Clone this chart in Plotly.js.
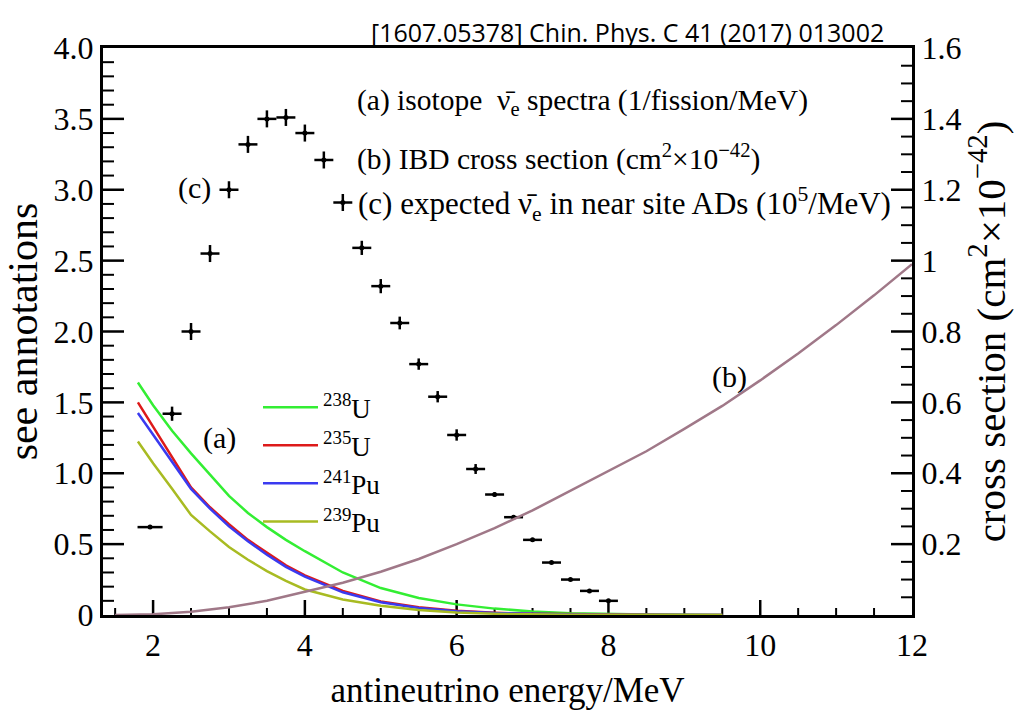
<!DOCTYPE html>
<html>
<head>
<meta charset="utf-8">
<script src="https://cdn.plot.ly/plotly-3.0.1.min.js"></script>
<style>html,body{margin:0;padding:0;background:#fff;}#chart{width:1018px;height:711px;}</style>
</head>
<body>
<div id="chart"></div>
<script>
// (a) isotope spectra (1/fission/MeV)
const specE = [1.8, 2.0, 2.25, 2.5, 2.75, 3.0, 3.25, 3.5, 3.75, 4.0, 4.5, 5.0, 5.5, 6.0, 6.5, 7.0, 7.5, 8.0, 8.5, 9.0, 9.5];
const u238  = [1.64, 1.48, 1.30, 1.14, 0.99, 0.84, 0.72, 0.62, 0.53, 0.45, 0.30, 0.19, 0.12, 0.075, 0.045, 0.025, 0.013, 0.006, 0.003, 0.001, 0.0];
const u235  = [1.50, 1.33, 1.12, 0.90, 0.76, 0.64, 0.53, 0.44, 0.35, 0.28, 0.17, 0.095, 0.055, 0.03, 0.016, 0.008, 0.004, 0.002, 0.001, 0.0005, 0.0];
const pu241 = [1.425, 1.27, 1.08, 0.89, 0.75, 0.625, 0.52, 0.425, 0.34, 0.27, 0.16, 0.09, 0.05, 0.027, 0.014, 0.007, 0.003, 0.0015, 0.0008, 0.0004, 0.0];
const pu239 = [1.224, 1.07, 0.89, 0.706, 0.59, 0.48, 0.39, 0.31, 0.24, 0.18, 0.11, 0.065, 0.035, 0.018, 0.009, 0.004, 0.002, 0.001, 0.0005, 0.0002, 0.0];

// (b) IBD cross section (right axis)
const xsE   = [1.5, 1.8, 2.0, 2.5, 3.0, 3.5, 4.0, 4.5, 5.0, 5.5, 6.0, 6.5, 7.0, 7.5, 8.0, 8.5, 9.0, 9.5, 10.0, 10.5, 11.0, 11.5, 12.0];
const xsVal = [0.0, 0.0, 0.002, 0.009, 0.022, 0.040, 0.065, 0.091, 0.122, 0.158, 0.200, 0.245, 0.295, 0.350, 0.405, 0.462, 0.525, 0.590, 0.662, 0.738, 0.818, 0.902, 0.99];

// (c) expected spectrum in near-site ADs (1e5/MeV)
const evE   = [1.96, 2.25, 2.5, 2.75, 3.0, 3.25, 3.5, 3.75, 4.0, 4.25, 4.5, 4.75, 5.0, 5.25, 5.5, 5.75, 6.0, 6.25, 6.5, 6.75, 7.0, 7.25, 7.5, 7.75, 8.0];
const evN   = [0.62, 1.42, 2.00, 2.55, 3.00, 3.32, 3.50, 3.51, 3.40, 3.21, 2.91, 2.59, 2.32, 2.06, 1.77, 1.54, 1.27, 1.03, 0.85, 0.69, 0.53, 0.37, 0.25, 0.17, 0.10];
const evXerr = [0.165, 0.125, 0.125, 0.125, 0.125, 0.125, 0.125, 0.125, 0.125, 0.125, 0.125, 0.125, 0.125, 0.125, 0.125, 0.125, 0.125, 0.125, 0.125, 0.125, 0.125, 0.125, 0.125, 0.125, 0.125];
const evYerr = [0.01, 0.05, 0.06, 0.06, 0.06, 0.06, 0.06, 0.06, 0.06, 0.06, 0.06, 0.05, 0.05, 0.045, 0.04, 0.04, 0.04, 0.035, 0.015, 0.012, 0.01, 0.01, 0.008, 0.006, 0.005];

const xTicks = [2, 4, 6, 8, 10, 12];
const yTicks = [0, 0.5, 1.0, 1.5, 2.0, 2.5, 3.0, 3.5, 4.0];
const yTickText = ['0', '0.5', '1.0', '1.5', '2.0', '2.5', '3.0', '3.5', '4.0'];
const y2Ticks = [0.2, 0.4, 0.6, 0.8, 1.0, 1.2, 1.4, 1.6];
const y2TickText = ['0.2', '0.4', '0.6', '0.8', '1', '1.2', '1.4', '1.6'];

const serif = 'Liberation Serif, Times New Roman, serif';
const xRange = [1.34, 12];
const yRange = [0, 4.0];
const y2Range = [0, 1.6];
const W = 1018, H = 711;
const M = {l: 103, r: 106, t: 48, b: 96};

// ---- ROOT-style tick marks inside the frame, built from the tick arrays ----
const xPerPx = (xRange[1] - xRange[0]) / (W - M.l - M.r);
const yPerPx = (yRange[1] - yRange[0]) / (H - M.t - M.b);
const y2PerPx = (y2Range[1] - y2Range[0]) / (H - M.t - M.b);
function stepVals(start, stop, step) {
  const out = [];
  const n = Math.round((stop - start) / step);
  for (let i = 0; i <= n; i++) out.push(+(start + i * step).toFixed(4));
  return out;
}
const within = (v, r) => v > r[0] + 1e-9 && v < r[1] - 1e-9;
function tickSegs(xVals, xLen, yVals, yLen, yRng, yPx, side) {
  const sx = [], sy = [];
  xVals.forEach(v => { sx.push(v, v, null); sy.push(yRng[0], yRng[0] + xLen * yPx, null); });
  const x0 = side > 0 ? xRange[0] : xRange[1];
  yVals.forEach(v => { sx.push(x0, x0 + side * yLen * xPerPx, null); sy.push(v, v, null); });
  return {sx, sy};
}
const xMajor = xTicks.filter(v => within(v, xRange));
const xMinor = stepVals(1.5, 11.5, 0.5).filter(v => within(v, xRange) && xTicks.indexOf(v) < 0);
const yMajor = yTicks.filter(v => within(v, yRange));
const yMinor = stepVals(0.1, 3.9, 0.1).filter(v => yTicks.indexOf(v) < 0);
const y2Major = y2Ticks.filter(v => within(v, y2Range));
const y2Minor = stepVals(0.05, 1.55, 0.05).filter(v => y2Ticks.indexOf(v) < 0);
const tMajL = tickSegs(xMajor, 15, yMajor, 21, yRange, yPerPx, 1);
const tMinL = tickSegs(xMinor, 7, yMinor, 11, yRange, yPerPx, 1);
const tMajR = tickSegs([], 0, y2Major, 21, y2Range, y2PerPx, -1);
const tMinR = tickSegs([], 0, y2Minor, 11, y2Range, y2PerPx, -1);
const tickTrace = (t, w, yaxis) => ({x: t.sx, y: t.sy, yaxis: yaxis, mode: 'lines', connectgaps: false,
  line: {color: 'black', width: w}, showlegend: false, hoverinfo: 'skip'});

const traces = [
  tickTrace(tMinL, 2, 'y'), tickTrace(tMajL, 2.5, 'y'),
  tickTrace(tMinR, 2, 'y2'), tickTrace(tMajR, 2.5, 'y2'),
  {x: xsE, y: xsVal, yaxis: 'y2', mode: 'lines', line: {color: '#a07888', width: 2.5}, showlegend: false, hoverinfo: 'skip'},
  {x: specE, y: u238, mode: 'lines', name: '<sup>238</sup>U', line: {color: '#33ee33', width: 2.5}},
  {x: specE, y: u235, mode: 'lines', name: '<sup>235</sup>U', line: {color: '#dd1a1a', width: 2.5}},
  {x: specE, y: pu241, mode: 'lines', name: '<sup>241</sup>Pu', line: {color: '#3a3af0', width: 2.5}},
  {x: specE, y: pu239, mode: 'lines', name: '<sup>239</sup>Pu', line: {color: '#a8bb22', width: 2.5}},
  {x: evE, y: evN, mode: 'markers', showlegend: false,
   marker: {color: 'black', size: 5},
   error_x: {type: 'data', array: evXerr, color: 'black', thickness: 2.5, width: 0},
   error_y: {type: 'data', array: evYerr, color: 'black', thickness: 2.5, width: 0}}
];

const ann = (x, y, text, size, xanchor) => ({x, y, xref: 'x', yref: 'y', text, showarrow: false,
  xanchor: xanchor || 'left', yanchor: 'middle', font: {family: serif, size: size, color: 'black'}});

const layout = {
  width: W, height: H,
  paper_bgcolor: 'white', plot_bgcolor: 'white',
  margin: M,
  font: {family: serif, color: 'black'},
  showlegend: true,
  legend: {x: 0.1916, y: 0.409, xanchor: 'left', yanchor: 'top', bgcolor: 'rgba(0,0,0,0)',
    font: {family: serif, size: 27, color: 'black'}, tracegroupgap: 0, itemwidth: 55},
  xaxis: {range: xRange, tickmode: 'array', tickvals: xTicks, ticks: '',
    showline: true, linewidth: 3, linecolor: 'black', mirror: true, showgrid: false, zeroline: false,
    tickfont: {family: serif, size: 32, color: 'black'},
    title: {text: 'antineutrino energy/MeV', font: {family: serif, size: 35, color: 'black'}, standoff: 16}},
  yaxis: {range: yRange, tickmode: 'array', tickvals: yTicks, ticktext: yTickText, ticks: '',
    showline: true, linewidth: 3, linecolor: 'black', showgrid: false, zeroline: false,
    tickfont: {family: serif, size: 32, color: 'black'},
    title: {text: 'see annotations', font: {family: serif, size: 42, color: 'black'}, standoff: 6}},
  yaxis2: {range: y2Range, overlaying: 'y', anchor: 'x', side: 'right', tickmode: 'array', tickvals: y2Ticks, ticktext: y2TickText,
    ticks: '', showline: true, linewidth: 3, linecolor: 'black', showgrid: false, zeroline: false,
    tickfont: {family: serif, size: 32, color: 'black'},
    title: {text: 'cross section (cm<sup>2</sup>×10<sup>−42</sup>)', font: {family: serif, size: 41, color: 'black'}, standoff: 8}},
  annotations: [
    ann(4.66, 3.62, '(a) isotope  ν\u0304<sub>e</sub> spectra (1/fission/MeV)', 29.5),
    ann(4.66, 3.23, '(b) IBD cross section (cm<sup>2</sup>×10<sup>−42</sup>)', 29.5),
    ann(4.68, 2.90, '(c) expected ν\u0304<sub>e</sub> in near site ADs (10<sup>5</sup>/MeV)', 31),
    ann(2.55, 3.01, '(c)', 30, 'center'),
    ann(2.87, 1.25, '(a)', 30, 'center'),
    ann(9.59, 1.68, '(b)', 30, 'center'),
    {x: 0.648, y: 1.028, xref: 'paper', yref: 'paper', text: '[1607.05378] Chin. Phys. C 41 (2017) 013002',
     showarrow: false, xanchor: 'center', yanchor: 'middle', font: {family: 'Open Sans, sans-serif', size: 25, color: 'black'}}
  ]
};

Plotly.newPlot('chart', traces, layout, {displayModeBar: false, staticPlot: true});
</script>
</body>
</html>
